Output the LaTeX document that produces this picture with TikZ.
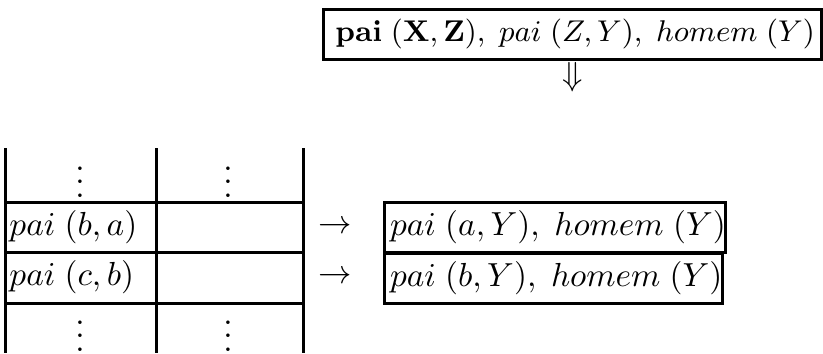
\documentclass[tikz,border=0pt]{standalone}
\usepackage{amsmath}
\usepackage{amssymb}
\usepackage{tikz}
\usetikzlibrary{positioning}

\begin{document}
\begin{tikzpicture}[
  x=0.3pt, y=-0.3pt, line width=0.9pt,
  goal/.style={draw, inner sep=0pt, minimum height=15pt, anchor=west},
  cell/.style={inner sep=0pt, anchor=west},
  dots/.style={inner sep=0pt},
  sym/.style={inner sep=0pt}
]
\useasboundingbox (0,0) rectangle (823,353);

% goal at the top
\node[goal, minimum width=149.4pt, font=\fontsize{9.5}{11}\selectfont] (g0) at (322,34)
  {\,$\mathbf{pai}\;(\mathbf{X},\mathbf{Z}),\; pai\;(Z,Y),\; homem\;(Y)$};
\node[sym] (down) at (573,77) {$\Downarrow$};

% table of facts
\draw (5,148) -- (5,353);
\draw (156,148) -- (156,353);
\draw (303,148) -- (303,353);
\foreach \y in {202,252,303}
  \draw (5,\y) -- (303,\y);

\node[dots] (d1) at (80,172) {$\vdots$};
\node[dots] (d2) at (228,172) {$\vdots$};
\node[cell] (f1) at (8,227) {$pai\;(b,a)$};
\node[cell] (f2) at (8,277) {$pai\;(c,b)$};
\node[dots] (d3) at (80,326) {$\vdots$};
\node[dots] (d4) at (228,326) {$\vdots$};

% resolvents
\node[sym] (a1) at (335,227) {$\rightarrow$};
\node[sym] (a2) at (335,277) {$\rightarrow$};
\node[goal, minimum width=100.2pt] (r1) at (383,227)
  {\,$pai\;(a,Y),\; homem\;(Y)$};
\node[goal, minimum width=99pt] (r2) at (383,278.5)
  {\,$pai\;(b,Y),\; homem\;(Y)$};
\end{tikzpicture}
\end{document}
